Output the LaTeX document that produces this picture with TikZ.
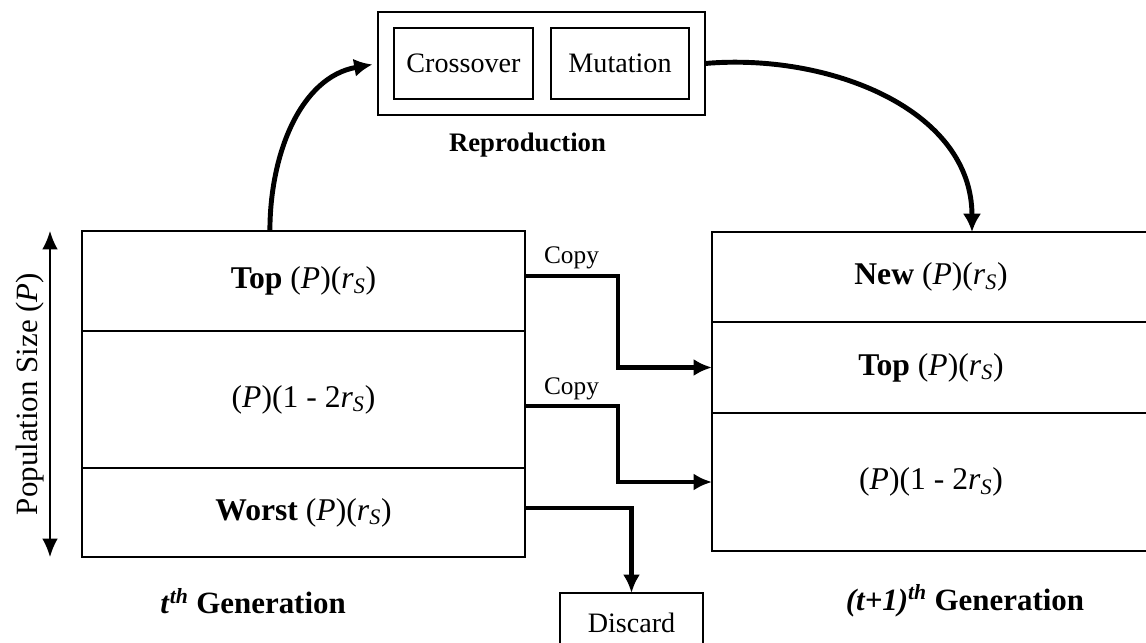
\documentclass[tikz,border=0pt]{standalone}
\usepackage{fontspec}
\setmainfont{Liberation Serif}
\usetikzlibrary{positioning, fit, calc, arrows.meta}
\newcommand{\rsub}{\textit{r}\textsubscript{\textit{S}}}
\newcommand{\pp}{(\textit{P})}
\tikzset{block/.style={draw, line width=1.6pt, inner sep=0pt, outer sep=0pt, align=center, font=\fontsize{20}{24}\selectfont},
sect/.style={block, font=\fontsize{22.5}{26}\selectfont},
oldsec/.style={sect, minimum width=11.075cm},
newsec/.style={sect, minimum width=10.95cm},
op/.style={block, minimum height=1.775cm},
lbl/.style={font=\fontsize{22}{26}\selectfont\bfseries},
line/.style={-{Latex[length=13pt,width=12pt]}, line width=3pt},
curvearrow/.style={-{Latex[length=13pt,width=13pt]}, line width=3.5pt},
popline/.style={{Latex[length=13pt,width=11pt]}-{Latex[length=13pt,width=11pt]}, line width=1.2pt}
}

\begin{document}
\begin{tikzpicture}
\useasboundingbox (0,0) rectangle (28.65,-16.075);

% reproduction
\node[op, minimum width=3.475cm] (cross) at (11.5875,-1.5875) {Crossover};
\node[op, minimum width=3.45cm, right=0.45cm of cross] (mut) {Mutation};
\node[draw, line width=1.6pt, inner sep=0.4cm, outer sep=0pt, fit=(cross)(mut)] (repro) {};
\node[font=\fontsize{19}{22}\selectfont\bfseries] (reprolbl) at ([xshift=-0.35cm, yshift=-0.75cm]repro.south) {Reproduction};

% t-th generation
\node[oldsec, minimum height=2.5cm] (oldtop) at (7.5875,-7.025) {\textbf{Top} \pp(\rsub)};
\node[oldsec, minimum height=3.425cm, below=0pt of oldtop] (oldmid) {\pp(1 - 2\rsub)};
\node[oldsec, minimum height=2.225cm, below=0pt of oldmid] (oldworst) {\textbf{Worst} \pp(\rsub)};
\node[lbl] (oldlbl) at ([xshift=-1.26cm, yshift=-1.1cm]oldworst.south) {\textit{t}\textsuperscript{\textit{th}} Generation};

% (t+1)-th generation
\node[newsec, minimum height=2.25cm] (newnew) at (23.275,-6.925) {\textbf{New} \pp(\rsub)};
\node[newsec, minimum height=2.275cm, below=0pt of newnew] (newtop) {\textbf{Top} \pp(\rsub)};
\node[newsec, minimum height=3.45cm, below=0pt of newtop] (newmid) {\pp(1 - 2\rsub)};
\node[lbl] (newlbl) at ([xshift=0.85cm, yshift=-1.25cm]newmid.south) {\textit{(t+1)}\textsuperscript{\textit{th}} Generation};

\node[block, minimum width=3.575cm, minimum height=1.5cm, anchor=north] (discard) at (15.7875,-14.825) {Discard};

% population size
\coordinate (popt) at ([xshift=-0.8cm]oldtop.north west);
\coordinate (popb) at ([xshift=-0.8cm]oldworst.south west);
\draw[popline] (popb) -- node[sloped, above, font=\fontsize{22}{26}\selectfont] {Population Size \pp} (popt);

\draw[curvearrow, shorten >=4pt] ([xshift=-0.84cm]oldtop.north) to[out=90, in=190] (repro.west);
\draw[curvearrow] (repro.east) to[out=5, in=90] ([xshift=1.025cm]newnew.north);

\draw[line] ($(oldtop.north east)!0.45!(oldtop.south east)$) -- node[above, font=\fontsize{18}{20}\selectfont] {Copy} ++(2.325,0) |- (newtop.west);
\draw[line] ($(oldmid.north east)!0.55!(oldmid.south east)$) -- node[above, font=\fontsize{18}{20}\selectfont] {Copy} ++(2.325,0) |- (newmid.west);
\draw[line] ($(oldworst.north east)!0.45!(oldworst.south east)$) -| (discard.north);
\end{tikzpicture}
\end{document}
